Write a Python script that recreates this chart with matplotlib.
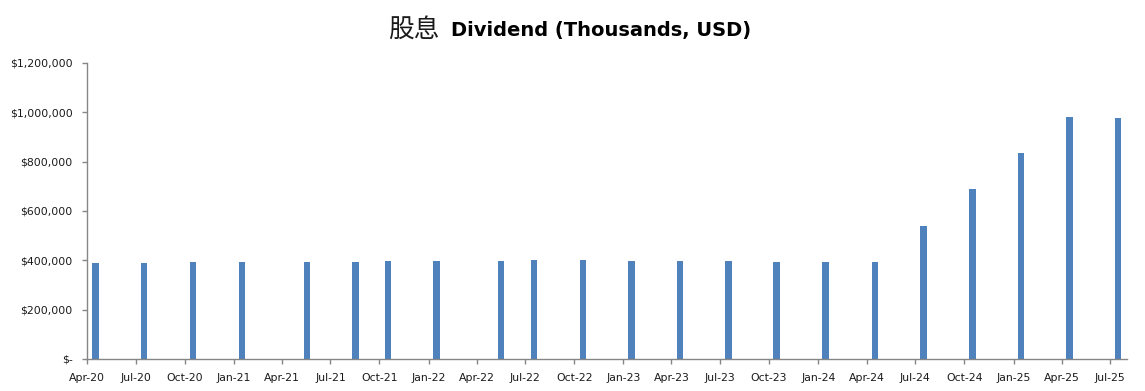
import numpy as np
import matplotlib
matplotlib.use("Agg")
import matplotlib.pyplot as plt
import matplotlib.dates as mdates
from matplotlib.ticker import FuncFormatter, MultipleLocator

# dividend payment dates and amounts (thousands USD)
pay_dates = ["2020-04-17", "2020-07-17", "2020-10-17", "2021-01-16",
             "2021-05-18", "2021-08-17", "2021-10-17", "2022-01-16",
             "2022-05-17", "2022-07-17", "2022-10-17", "2023-01-16",
             "2023-04-17", "2023-07-17", "2023-10-15", "2024-01-15",
             "2024-04-16", "2024-07-16", "2024-10-16", "2025-01-15",
             "2025-04-16", "2025-07-16"]
dividends = [389000, 389000, 393000, 393000, 393000, 393000, 397000, 397000,
             397000, 401000, 401000, 397000, 397000, 397000, 393000, 393000,
             393000, 539000, 689000, 835000, 981000, 977000]

dates = np.array(pay_dates, dtype="datetime64[D]")

fig = plt.figure(figsize=(11.45, 3.91), dpi=100)
ax = fig.add_axes([0.076, 0.082, 0.908, 0.757])

ax.bar(dates, dividends, width=12, color="#4F81BD")

ax.set_xlim(np.datetime64("2020-04-01"), np.datetime64("2025-08-01"))
ax.set_ylim(0, 1200000)

ax.xaxis.set_major_locator(mdates.MonthLocator(bymonth=[1, 4, 7, 10]))
ax.xaxis.set_major_formatter(mdates.DateFormatter("%b-%y"))
ax.yaxis.set_major_locator(MultipleLocator(200000))

def money(v, pos):
    if v == 0:
        return "$-"
    return "${:,.0f}".format(v)

ax.yaxis.set_major_formatter(FuncFormatter(money))

for s in ["top", "right"]:
    ax.spines[s].set_visible(False)
for s in ["left", "bottom"]:
    ax.spines[s].set_color("#868686")
    ax.spines[s].set_linewidth(1.0)

ax.tick_params(axis="both", colors="#868686", labelcolor="#1a1a1a",
               labelsize=7.8, length=3.5, width=1.0, direction="out")
ax.tick_params(axis="x", pad=6.5)
ax.tick_params(axis="y", pad=7)

# title: Chinese part regular, English part bold
fig.text(0.3835, 0.925, "股息", ha="right", va="center", fontsize=18.5,
         family=["Noto Sans CJK SC", "DejaVu Sans"], color="#1a1a1a")
fig.text(0.394, 0.923, "Dividend (Thousands, USD)", ha="left", va="center",
         fontsize=14, fontweight="bold", family="DejaVu Sans")

fig.savefig("out.png", dpi=100)
